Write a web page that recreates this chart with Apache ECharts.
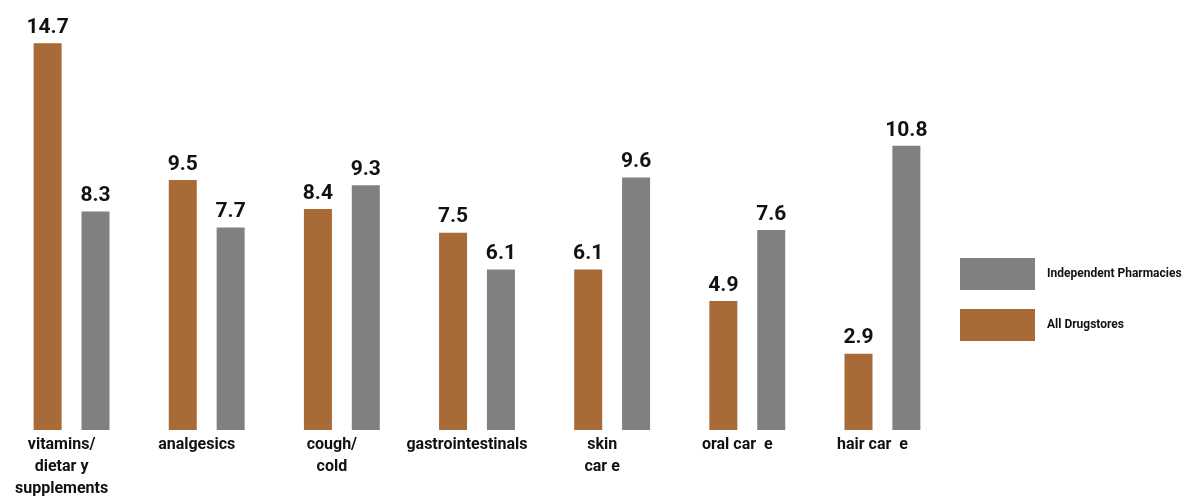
<!DOCTYPE html>
<html><head><meta charset="utf-8">
<script src="https://cdn.jsdelivr.net/npm/echarts@6/dist/echarts.min.js"></script>
<style>html,body{margin:0;padding:0;background:#fff}#c{width:1189px;height:504px}</style>
</head><body><div id="c"></div>
<script>
const categories = ['vitamins/\ndietar y\nsupplements', 'analgesics', 'cough/\ncold', 'gastrointestinals', 'skin\ncar e', 'oral car  e', 'hair car  e'];
const allDrugstores = [14.7, 9.5, 8.4, 7.5, 6.1, 4.9, 2.9];
const independentPharmacies = [8.3, 7.7, 9.3, 6.1, 9.6, 7.6, 10.8];
const seriesNames = ['All Drugstores', 'Independent Pharmacies'];

const FONT = '"Liberation Sans Narrow", Roboto, sans-serif';
const chart = echarts.init(document.getElementById('c'), null, {renderer: 'canvas'});
const labelStyle = {show: true, position: 'top', distance: 5, color: '#111', fontFamily: FONT, fontWeight: 'bold', fontSize: 21, formatter: p => p.value.toFixed(1)};
chart.setOption({
  animation: false,
  backgroundColor: '#fff',
  grid: {left: 4, width: 946, top: 9, bottom: 74, containLabel: false},
  legend: {
    orient: 'vertical', left: 960, top: 258, padding: 0, itemWidth: 75, itemHeight: 32, itemGap: 19,
    icon: 'rect', data: [seriesNames[1], seriesNames[0]],
    textStyle: {fontFamily: FONT, fontWeight: 'bold', fontSize: 12, color: '#111', padding: [0, 0, 0, 7]}
  },
  xAxis: {
    type: 'category', data: categories,
    axisLine: {show: false}, axisTick: {show: false},
    axisLabel: {interval: 0, margin: 4, color: '#111', fontFamily: FONT, fontWeight: 'bold', fontSize: 16, lineHeight: 22, verticalAlign: 'top', padding: [0, 20, 0, 0]}
  },
  yAxis: {type: 'value', min: 0, max: 16, show: false, splitLine: {show: false}},
  series: [
    {name: seriesNames[0], type: 'bar', data: allDrugstores, barWidth: 28, barGap: '71%', itemStyle: {color: '#A86A37'}, label: labelStyle},
    {name: seriesNames[1], type: 'bar', data: independentPharmacies, barWidth: 28, barGap: '71%', itemStyle: {color: '#808080'}, label: labelStyle}
  ]
});
</script></body></html>
